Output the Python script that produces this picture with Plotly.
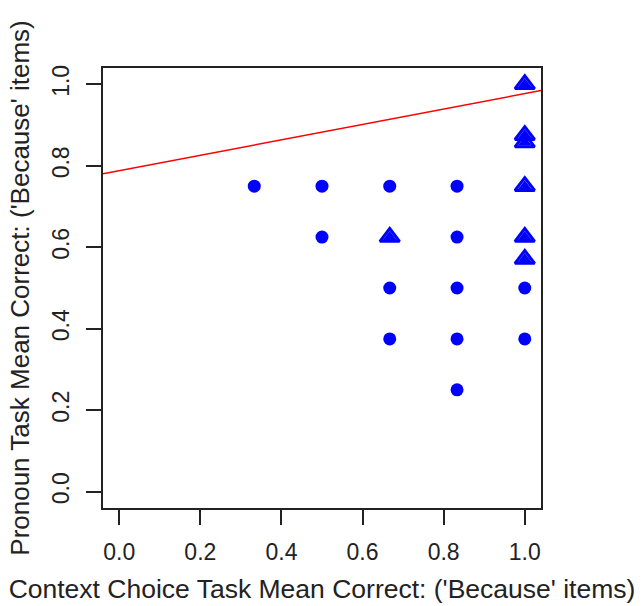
import plotly.graph_objects as go

# Data
circle_x = [0.333, 0.5, 0.667, 0.833, 0.5, 0.833, 0.667, 0.833, 0.667, 0.833, 0.833, 1.0, 1.0]
circle_y = [0.75, 0.75, 0.75, 0.75, 0.625, 0.625, 0.5, 0.5, 0.375, 0.375, 0.25, 0.5, 0.375]
tri_x = [0.667, 1.0, 1.0, 1.0, 1.0, 1.0, 1.0]
tri_y = [0.625, 1.0, 0.875, 0.857, 0.75, 0.625, 0.571]
fit_intercept = 0.788
fit_slope = 0.189
tick_vals = [0.0, 0.2, 0.4, 0.6, 0.8, 1.0]
tick_text = ["0.0", "0.2", "0.4", "0.6", "0.8", "1.0"]
x_range = [-0.04, 1.04]
y_range = [-0.04, 1.04]

font = "Liberation Sans, Arial, sans-serif"

fig = go.Figure()
fig.add_trace(go.Scatter(
    x=x_range, y=[fit_intercept + fit_slope * v for v in x_range],
    mode="lines", line=dict(color="red", width=1.5), hoverinfo="skip"))
fig.add_trace(go.Scatter(
    x=circle_x, y=circle_y, mode="markers",
    marker=dict(symbol="circle", size=13, color="blue", line=dict(width=0))))
fig.add_trace(go.Scatter(
    x=tri_x, y=tri_y, mode="markers",
    marker=dict(symbol="triangle-up-open", size=17, color="blue",
                line=dict(width=3, color="blue"))))
fig.add_trace(go.Scatter(
    x=tri_x, y=tri_y, mode="markers",
    marker=dict(symbol="triangle-up", size=12, color="blue", line=dict(width=0))))

axis_common = dict(
    showgrid=False, zeroline=False, showline=True, mirror=True,
    linecolor="#222", linewidth=1.5, ticks="outside", ticklen=15,
    tickwidth=1.5, tickcolor="#222", tickvals=tick_vals, ticktext=tick_text,
    tickfont=dict(family=font, size=23, color="#222"), automargin=False,
)

fig.update_layout(
    width=644, height=606,
    margin=dict(l=103, r=103, t=68, b=98),
    paper_bgcolor="white", plot_bgcolor="white",
    showlegend=False,
    xaxis=dict(range=x_range, ticklabelstandoff=8, **axis_common,
               title=dict(text="Context Choice Task Mean Correct: ('Because' items)",
                          font=dict(family=font, size=26.5, color="#222"), standoff=15)),
    yaxis=dict(range=y_range, tickangle=-90, ticklabelstandoff=8, **axis_common,
               title=dict(text="Pronoun Task Mean Correct: ('Because' items)",
                          font=dict(family=font, size=26, color="#222"), standoff=11)),
)

fig.write_html("out.html")
